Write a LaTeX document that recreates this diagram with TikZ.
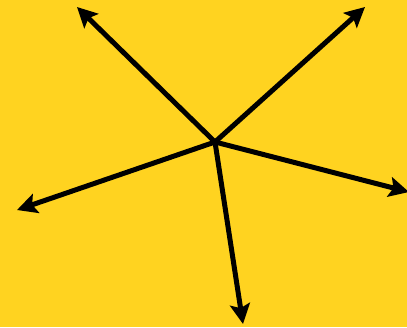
\documentclass[tikz,border=0pt]{standalone}
\usetikzlibrary{arrows.meta}
\definecolor{bg}{HTML}{FFD320}
\tikzset{ray/.style={line width=5pt,-{Stealth[length=20pt,width=20pt,inset=4pt]}}}
\begin{document}
\begin{tikzpicture}[x=1pt,y=-1pt]
\fill[bg] (0,0) rectangle (407,327);
\useasboundingbox (0,0) rectangle (407,327);
\coordinate (c) at (215,142);
\coordinate (a1) at (77,7);
\coordinate (a2) at (365,7);
\coordinate (a3) at (409,192);
\coordinate (a4) at (17,210);
\coordinate (a5) at (243,324);
\foreach \t in {a1,a2,a3,a4,a5}{\draw[ray] (c) -- (\t);}
\end{tikzpicture}
\end{document}
